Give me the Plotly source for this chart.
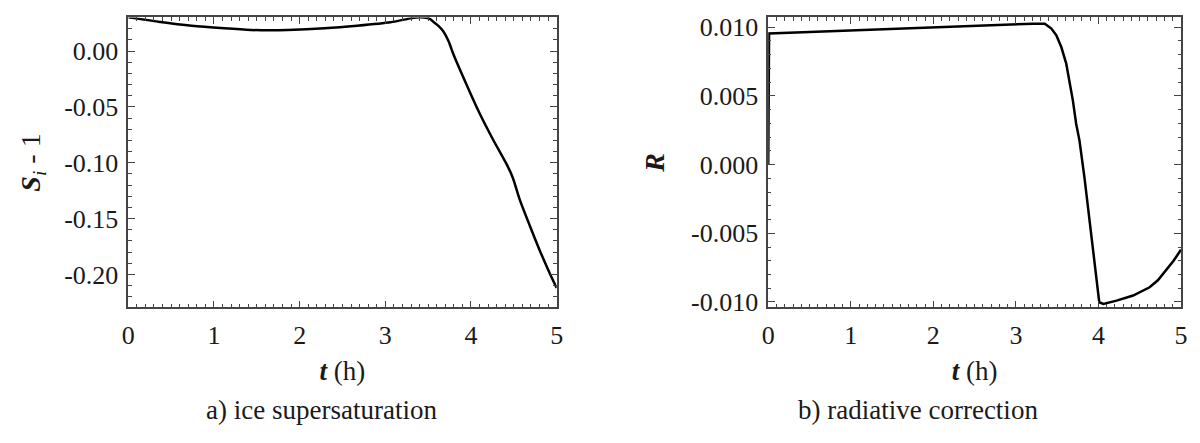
import plotly.graph_objects as go
from plotly.subplots import make_subplots

# a) ice supersaturation S_i - 1 vs time (h)
t_si = [0.0, 0.35, 0.74, 1.12, 1.43, 1.65, 1.86, 2.29, 2.67, 3.06, 3.25, 3.33, 3.45,
        3.52, 3.56, 3.62, 3.68, 3.74, 3.79, 3.95, 4.10, 4.26, 4.42, 4.49, 4.57,
        4.69, 4.80, 4.92, 5.0]
si_minus_1 = [0.0301, 0.0262, 0.0226, 0.0203, 0.0188, 0.0185, 0.0188, 0.0203, 0.0226,
              0.0257, 0.0285, 0.0298, 0.0300, 0.0288, 0.0262, 0.0225, 0.0173, 0.0085,
              -0.0020, -0.0304, -0.0557, -0.0796, -0.1019, -0.1138, -0.1332,
              -0.1570, -0.1780, -0.1990, -0.2120]

# b) radiative correction R vs time (h)
t_r = [0.0, 0.01, 0.5, 1.0, 1.5, 2.08, 2.80, 3.05, 3.21, 3.35, 3.43, 3.49, 3.55,
       3.61, 3.65, 3.69, 3.73, 3.77, 3.83, 3.91, 4.01, 4.06, 4.22, 4.42, 4.62,
       4.72, 4.82, 4.91, 5.0]
r_corr = [0.0, 0.00953, 0.00964, 0.00976, 0.00987, 0.0100, 0.01018, 0.0102, 0.01025,
          0.01025, 0.00989, 0.0094, 0.00855, 0.00734, 0.00613, 0.00467, 0.00297,
          0.00176, -0.00092, -0.00504, -0.01002, -0.01014, -0.0099, -0.00953,
          -0.00893, -0.00842, -0.00771, -0.0070, -0.0062]

x_ticks = [0, 1, 2, 3, 4, 5]
si_ticks = [0.0, -0.05, -0.10, -0.15, -0.20]
si_ticktext = ["0.00", "-0.05", "-0.10", "-0.15", "-0.20"]
r_ticks = [0.010, 0.005, 0.0, -0.005, -0.010]
r_ticktext = ["0.010", "0.005", "0.000", "-0.005", "-0.010"]

FONT = "Liberation Serif"
FRAME = "#444444"
TEXT = "#1a1a1a"

# the page body keeps its default 8px margin, so the figure is sized to fit inside it
FIG_W, FIG_H = 1184, 427

fig = make_subplots(rows=1, cols=2)

fig.add_trace(go.Scatter(x=t_si, y=si_minus_1, mode="lines",
                         line=dict(color="black", width=2.5, shape="spline", smoothing=0.6),
                         showlegend=False),
              row=1, col=1)
fig.add_trace(go.Scatter(x=t_r, y=r_corr, mode="lines",
                         line=dict(color="black", width=2.5), showlegend=False),
              row=1, col=2)

axis_common = dict(
    showline=True, linecolor=FRAME, linewidth=1.5, mirror="allticks",
    ticks="inside", ticklen=7, tickwidth=1.2, tickcolor=FRAME,
    showgrid=False, zeroline=False, automargin=False,
    tickfont=dict(family=FONT, size=26, color=TEXT),
)

y_dom = [0.2986, 0.9778]

for col, dom in [(1, [0.1016, 0.4634]), (2, [0.6421, 0.9907])]:
    fig.update_xaxes(
        domain=dom, range=[0, 5], tickvals=x_ticks,
        minor=dict(dtick=0.1, ticklen=3.5, tickcolor=FRAME, ticks="inside", showgrid=False),
        title=dict(text="<b><i>t</i></b> (h)", font=dict(family=FONT, size=27, color=TEXT),
                   standoff=12),
        ticklabelstandoff=4,
        row=1, col=col, **axis_common)

fig.update_yaxes(
    domain=y_dom, range=[-0.2295, 0.0300],
    tickvals=si_ticks, ticktext=si_ticktext,
    minor=dict(dtick=0.01, ticklen=3.5, tickcolor=FRAME, ticks="inside", showgrid=False),
    title=dict(text="<b><i>S</i></b><sub><i>i</i></sub> - 1",
               font=dict(family=FONT, size=28, color=TEXT), standoff=15),
    ticklabelstandoff=3,
    row=1, col=1, **axis_common)

fig.update_yaxes(
    domain=y_dom, range=[-0.0104, 0.0107],
    tickvals=r_ticks, ticktext=r_ticktext,
    minor=dict(dtick=0.001, ticklen=3.5, tickcolor=FRAME, ticks="inside", showgrid=False),
    title=dict(text="<b><i>R</i></b>",
               font=dict(family=FONT, size=28, color=TEXT), standoff=18),
    ticklabelstandoff=3,
    row=1, col=2, **axis_common)

captions = [("a) ice supersaturation", 0.2644), ("b) radiative correction", 0.7686)]
for text, xpos in captions:
    fig.add_annotation(text=text, x=xpos, y=0.0585, xref="paper", yref="paper",
                       showarrow=False, xanchor="center", yanchor="middle",
                       font=dict(family=FONT, size=27, color=TEXT))

fig.update_layout(
    width=FIG_W, height=FIG_H,
    margin=dict(l=0, r=0, t=0, b=0),
    paper_bgcolor="white", plot_bgcolor="white",
    font=dict(family=FONT, color=TEXT),
)

fig.write_html("out.html")
